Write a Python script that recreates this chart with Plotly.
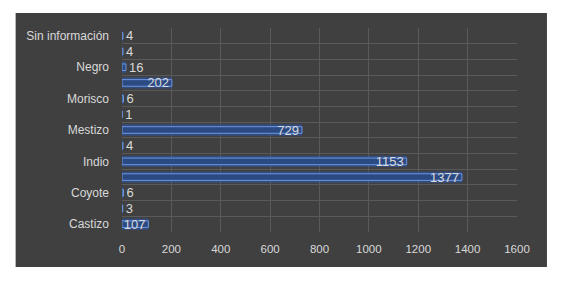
import plotly.graph_objects as go

# Data (bottom to top, as drawn); unlabeled categories are hidden in the reference
labels = ["Castizo", "", "Coyote", "", "Indio", "", "Mestizo", "", "Morisco", "", "Negro", "", "Sin información"]
values = [107, 3, 6, 1377, 1153, 4, 729, 1, 6, 202, 16, 4, 4]
x_ticks = [0, 200, 400, 600, 800, 1000, 1200, 1400, 1600]

positions = list(range(len(values)))
inside = {107, 202, 729, 1153, 1377}
textpos = ["inside" if v in inside else "outside" for v in values]

OFF = 8  # page body margin
W, H = 561 - OFF, 283 - OFF
L, R, T, B = 121.5 - OFF, 44, 28 - OFF, 51
pw, ph = W - L - R, H - T - B

def px_x(p):
    return (p - OFF - L) / pw

def px_y(p):
    return (H - B - (p - OFF)) / ph

bg = "#404040"
txt = "#d9d9d9"
grid = "#5a5a5a"

fig = go.Figure()
# glow
fig.add_trace(go.Bar(
    y=positions, x=values, orientation="h", width=0.72,
    marker=dict(color="rgba(45,85,165,0.6)", line=dict(width=0)),
    hoverinfo="skip", showlegend=False,
))
# main bar
fig.add_trace(go.Bar(
    y=positions, x=values, orientation="h", width=0.42,
    marker=dict(color="#2c4a82", line=dict(color="#6b97e3", width=1)),
    text=[str(v) for v in values], textposition=textpos,
    insidetextanchor="end", constraintext="none", cliponaxis=False,
    textfont=dict(color=txt, size=13, family="Liberation Sans"),
    insidetextfont=dict(color=txt, size=13, family="Liberation Sans"),
    outsidetextfont=dict(color=txt, size=13, family="Liberation Sans"),
    showlegend=False,
))

fig.update_layout(
    width=W, height=H,
    margin=dict(l=L, r=R, t=T, b=B, pad=0),
    paper_bgcolor="white", plot_bgcolor=bg,
    barmode="overlay",
    font=dict(family="Liberation Sans", color=txt, size=12),
    shapes=[dict(type="rect", xref="paper", yref="paper",
                 x0=px_x(15), x1=px_x(547), y0=px_y(267), y1=px_y(13),
                 fillcolor=bg, line=dict(width=0), layer="below")],
    xaxis=dict(range=[0, 1600], tickvals=x_ticks, showgrid=True, gridcolor=grid,
               gridwidth=1, zeroline=False, showline=False,
               tickfont=dict(size=11.5, color=txt), ticks="", ticklabelstandoff=8),
    yaxis=dict(range=[-0.5, 12.5], tickvals=positions, ticktext=labels,
               showgrid=False, zeroline=False, showline=False, ticks="",
               tickfont=dict(size=12, color=txt), ticklabelstandoff=12,
               minor=dict(tick0=-0.5, dtick=1, showgrid=True, gridcolor=grid, gridwidth=1, ticks="")),
)

fig.write_html("out.html")
